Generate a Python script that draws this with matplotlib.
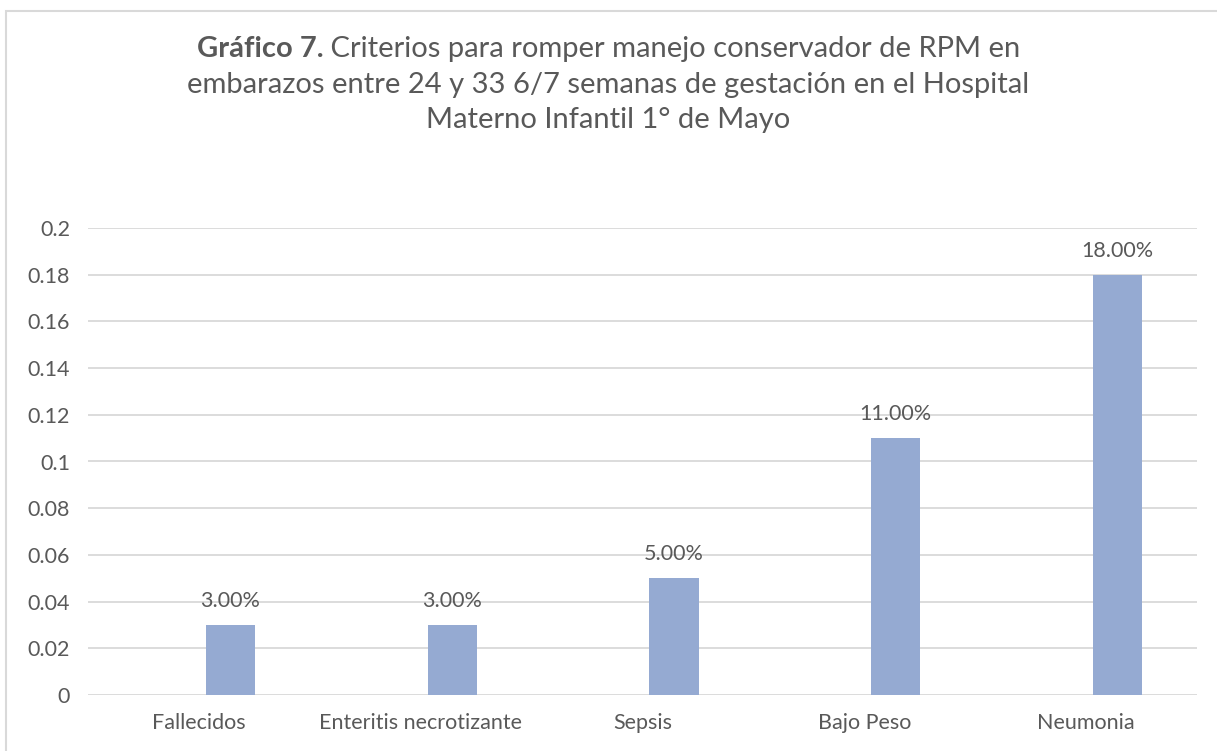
import matplotlib
matplotlib.use("Agg")
import matplotlib.pyplot as plt
from matplotlib.patches import Rectangle
import numpy as np

categories = ["Fallecidos", "Enteritis necrotizante", "Sepsis", "Bajo Peso", "Neumonia"]
values = [0.03, 0.03, 0.05, 0.11, 0.18]
yticks = [0, 0.02, 0.04, 0.06, 0.08, 0.1, 0.12, 0.14, 0.16, 0.18, 0.2]
ytick_labels = ["0", "0.02", "0.04", "0.06", "0.08", "0.1", "0.12", "0.14", "0.16", "0.18", "0.2"]

plt.rcParams['font.family'] = ['Lato', 'DejaVu Sans']
txt = '#595959'

fig = plt.figure(figsize=(12.17, 7.51), dpi=100)
ax = fig.add_axes([88/1217, 1-695/751, (1197-88)/1217, (695-228)/751])

x = np.arange(len(categories))
offset = 0.142
width = 0.222
ax.bar(x + offset, values, width=width, color='#95AAD2', zorder=3)
for xi, v in zip(x, values):
    ax.annotate(f"{v*100:.2f}%", (xi + offset, v), xytext=(0, 10), textcoords='offset points',
                ha='center', va='bottom', fontsize=15.5, color=txt)

ax.set_xlim(-0.5, len(categories) - 0.5)
ax.set_ylim(0, 0.2)
ax.set_yticks(yticks)
ax.set_yticklabels(ytick_labels)
ax.set_xticks(x)
ax.set_xticklabels(categories)
ax.tick_params(axis='both', length=0, labelsize=15.5, colors=txt)
ax.tick_params(axis='x', pad=13)
ax.tick_params(axis='y', pad=13)
ax.grid(axis='y', color='#D9D9D9', linewidth=1.3, zorder=0)
for s in ax.spines.values():
    s.set_visible(False)

# Title with bold prefix
title_lines = [
    ("Gráfico 7.", " Criterios para romper manejo conservador de RPM en"),
    ("", "embarazos entre 24 y 33 6/7 semanas de gestación en el Hospital"),
    ("", "Materno Infantil 1° de Mayo"),
]
ys = [49, 85, 120]
fs = 21
renderer = fig.canvas.get_renderer()
for (b, r), yy in zip(title_lines, ys):
    yf = 1 - yy/751
    if b:
        tb = fig.text(0, yf, b, fontsize=fs, fontweight='bold', color=txt, va='center')
        tr = fig.text(0, yf, r, fontsize=fs, color=txt, va='center')
        wb = tb.get_window_extent(renderer).width
        wr = tr.get_window_extent(renderer).width
        tot = wb + wr
        x0 = (1217 - tot) / 2
        tb.set_x(x0/1217)
        tr.set_x((x0 + wb)/1217)
    else:
        fig.text(0.5, yf, r, fontsize=fs, color=txt, va='center', ha='center')

fig.patches.append(Rectangle((6/1217, -0.1), 1.2, 1-11/751+0.1, transform=fig.transFigure,
                             fill=False, edgecolor='#D9D9D9', linewidth=1.5))

fig.savefig("out.png", dpi=100)
